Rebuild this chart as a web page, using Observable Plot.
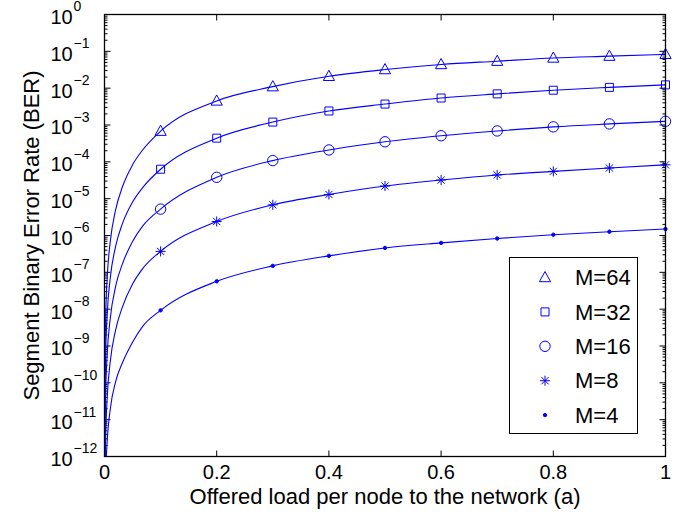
<!DOCTYPE html>
<html><head><meta charset="utf-8">
<script src="https://cdn.jsdelivr.net/npm/d3@7"></script>
<script src="https://cdn.jsdelivr.net/npm/@observablehq/plot@0.6"></script>
<style>
body{margin:0;background:#fff;font-family:"Liberation Sans",Arial,Helvetica,sans-serif;}
#chart{position:relative;width:690px;height:514px;}
#legend{position:absolute;left:509px;top:257px;}
</style></head><body><div id="chart"></div>
<script>
// ---- data ----
const seriesNames = ["M=64", "M=32", "M=16", "M=8", "M=4"];
const loadMarkers = [0.1, 0.2, 0.3, 0.4, 0.5, 0.6, 0.7, 0.8, 0.9, 1.0];
const loadNearZero = [0.0001, 0.0005, 0.002, 0.005, 0.01, 0.02, 0.032, 0.05, 0.068];

const ber64 = [6.8e-4, 4.5e-3, 1.1e-2, 2.1e-2, 3.2e-2, 4.4e-2, 5.4e-2, 6.6e-2, 7.4e-2, 8.3e-2];
const ber32 = [6.3e-5, 4.4e-4, 1.2e-3, 2.4e-3, 3.7e-3, 5.4e-3, 7.0e-3, 8.8e-3, 1.05e-2, 1.23e-2];
const ber16 = [5.2e-6, 3.8e-5, 1.08e-4, 2.1e-4, 3.5e-4, 5.1e-4, 6.9e-4, 8.9e-4, 1.07e-3, 1.26e-3];
const ber8  = [3.7e-7, 2.4e-6, 6.8e-6, 1.3e-5, 2.2e-5, 3.2e-5, 4.4e-5, 5.5e-5, 6.8e-5, 8.3e-5];
const ber4  = [9.3e-9, 5.7e-8, 1.5e-7, 2.8e-7, 4.6e-7, 6.3e-7, 8.3e-7, 1.05e-6, 1.27e-6, 1.5e-6];

const ber64NearZero = [6e-13, 7.9e-11, 5.1e-9, 7.9e-8, 6.3e-7, 5.1e-6, 2.1e-5, 8.3e-5, 2.1e-4];
const ber32NearZero = [6e-14, 8.1e-12, 5.2e-10, 8.1e-9, 6.5e-8, 5.2e-7, 2.1e-6, 8.1e-6, 2.0e-5];
const ber16NearZero = [1e-14, 6.6e-13, 4.3e-11, 6.6e-10, 5.2e-9, 4.3e-8, 1.7e-7, 6.9e-7, 1.8e-6];
const ber8NearZero  = [1e-15, 4.4e-14, 2.8e-12, 4.4e-11, 3.5e-10, 2.8e-9, 1.15e-8, 4.8e-8, 1.26e-7];
const ber4NearZero  = [1e-16, 1e-15, 2.5e-13, 2.8e-12, 1.8e-11, 1.1e-10, 3.5e-10, 1.26e-9, 3.4e-9];

const xTickValues = [0, 0.2, 0.4, 0.6, 0.8, 1];
const yDecadeExponents = [-12, -11, -10, -9, -8, -7, -6, -5, -4, -3, -2, -1, 0];
const xTitle = "Offered load per node to the network (a)";
const yTitle = "Segment Binary Error Rate (BER)";

// ---- build tables ----
const markerSets = [ber64, ber32, ber16, ber8, ber4];
const nearZeroSets = [ber64NearZero, ber32NearZero, ber16NearZero, ber8NearZero, ber4NearZero];

const lineRows = [];
const markerRows = [];
seriesNames.forEach((name, i) => {
  loadNearZero.forEach((a, j) => lineRows.push({series: name, a, ber: nearZeroSets[i][j]}));
  loadMarkers.forEach((a, j) => {
    lineRows.push({series: name, a, ber: markerSets[i][j]});
    markerRows.push({series: name, a, ber: markerSets[i][j]});
  });
});

// ---- symbols ----
const blue = "#0000ff";
const symTriangle = {draw(c) { c.moveTo(0, -6); c.lineTo(5.6, 4.2); c.lineTo(-5.6, 4.2); c.closePath(); }};
const symSquare = {draw(c) { c.rect(-4, -4, 8, 8); }};
const symCircle = {draw(c) { c.moveTo(5.2, 0); c.arc(0, 0, 5.2, 0, 2 * Math.PI); }};
const symStar = {draw(c) {
  const r = 5, d = 3.6;
  c.moveTo(-r, 0); c.lineTo(r, 0); c.moveTo(0, -r); c.lineTo(0, r);
  c.moveTo(-d, -d); c.lineTo(d, d); c.moveTo(-d, d); c.lineTo(d, -d);
}};
const symDot = {draw(c) { c.moveTo(1.7, 0); c.arc(0, 0, 1.7, 0, 2 * Math.PI); }};
const seriesSymbols = [symTriangle, symSquare, symCircle, symStar, symDot];
const seriesFill = ["none", "none", "none", "none", blue];

const tickSym = (dx, dy) => ({draw(c) { c.moveTo(0, 0); c.lineTo(dx, dy); }});
const majorY = yDecadeExponents.map(e => Math.pow(10, e));
const minorY = [];
for (const e of yDecadeExponents.slice(0, -1)) for (let m = 2; m <= 9; m++) minorY.push(m * Math.pow(10, e));

const tickStyle = {stroke: "black", fill: "none", strokeWidth: 1};

const marks = [
  // ticks (inside)
  Plot.dot(majorY, {x: () => 0, y: d => d, symbol: tickSym(6, 0), ...tickStyle}),
  Plot.dot(majorY, {x: () => 1, y: d => d, symbol: tickSym(-6, 0), ...tickStyle}),
  Plot.dot(minorY, {x: () => 0, y: d => d, symbol: tickSym(3, 0), ...tickStyle}),
  Plot.dot(minorY, {x: () => 1, y: d => d, symbol: tickSym(-3, 0), ...tickStyle}),
  Plot.dot(xTickValues, {x: d => d, y: () => 1e-12, symbol: tickSym(0, -6), ...tickStyle}),
  Plot.dot(xTickValues, {x: d => d, y: () => 1, symbol: tickSym(0, 6), ...tickStyle}),
  // lines
  ...seriesNames.map(name => Plot.line(lineRows.filter(r => r.series === name), {
    x: "a", y: "ber", stroke: blue, strokeWidth: 1.1, curve: "monotone-x", clip: true
  })),
  // markers
  ...seriesNames.map((name, i) => Plot.dot(markerRows.filter(r => r.series === name), {
    x: "a", y: "ber", symbol: seriesSymbols[i], stroke: blue, fill: seriesFill[i], strokeWidth: 1
  })),
  Plot.frame({stroke: "black", strokeWidth: 1.3}),
  // x tick labels
  Plot.text(xTickValues, {x: d => d, frameAnchor: "bottom", text: d => `${d}`, dy: 16,
    lineAnchor: "middle", fontSize: 20, fill: "black"}),
  // y tick labels (10 with superscript exponent)
  Plot.text(yDecadeExponents, {x: () => 0, y: e => Math.pow(10, e), text: () => "10",
    dx: -54, dy: 3, textAnchor: "start", lineAnchor: "middle", fontSize: 20, fill: "black"}),
  Plot.text(yDecadeExponents, {x: () => 0, y: e => Math.pow(10, e),
    text: e => e === 0 ? "0" : "\u2212" + Math.abs(e),
    dx: -31, dy: -7.5, textAnchor: "start", lineAnchor: "middle", fontSize: 14, fill: "black"}),
  // axis titles
  Plot.text([xTitle], {frameAnchor: "bottom", text: d => d, dy: 40, textAnchor: "middle", lineAnchor: "middle", fontSize: 22, fill: "black"}),
  Plot.text([yTitle], {frameAnchor: "left", text: d => d, rotate: -90, dx: -73, textAnchor: "middle", lineAnchor: "middle", fontSize: 22, fill: "black"})
];

const chart = Plot.plot({
  width: 690, height: 514,
  marginLeft: 104, marginRight: 25, marginTop: 14, marginBottom: 58,
  style: {fontFamily: '"Liberation Sans", Arial, Helvetica, sans-serif', background: "white", overflow: "visible"},
  x: {domain: [0, 1], axis: null},
  y: {type: "log", domain: [1e-12, 1], axis: null},
  marks
});
document.getElementById("chart").appendChild(chart);

// ---- legend ----
const lw = 129, lh = 177;
const legend = d3.create("svg").attr("id", "legend").attr("width", lw).attr("height", lh)
  .style("font-family", '"Liberation Sans", Arial, Helvetica, sans-serif');
legend.append("rect").attr("x", 0.5).attr("y", 0.5).attr("width", lw - 1).attr("height", lh - 1)
  .attr("fill", "white").attr("stroke", "black").attr("stroke-width", 1);
seriesNames.forEach((name, i) => {
  const cy = 20.5 + i * 34.4;
  legend.append("path").attr("d", d3.symbol(seriesSymbols[i])())
    .attr("transform", `translate(36,${cy})`).attr("stroke", blue).attr("fill", seriesFill[i]).attr("stroke-width", 1);
  legend.append("text").attr("x", 66).attr("y", cy).attr("dy", "0.35em").attr("font-size", 22).text(name);
});
document.getElementById("chart").appendChild(legend.node());
</script></body></html>
